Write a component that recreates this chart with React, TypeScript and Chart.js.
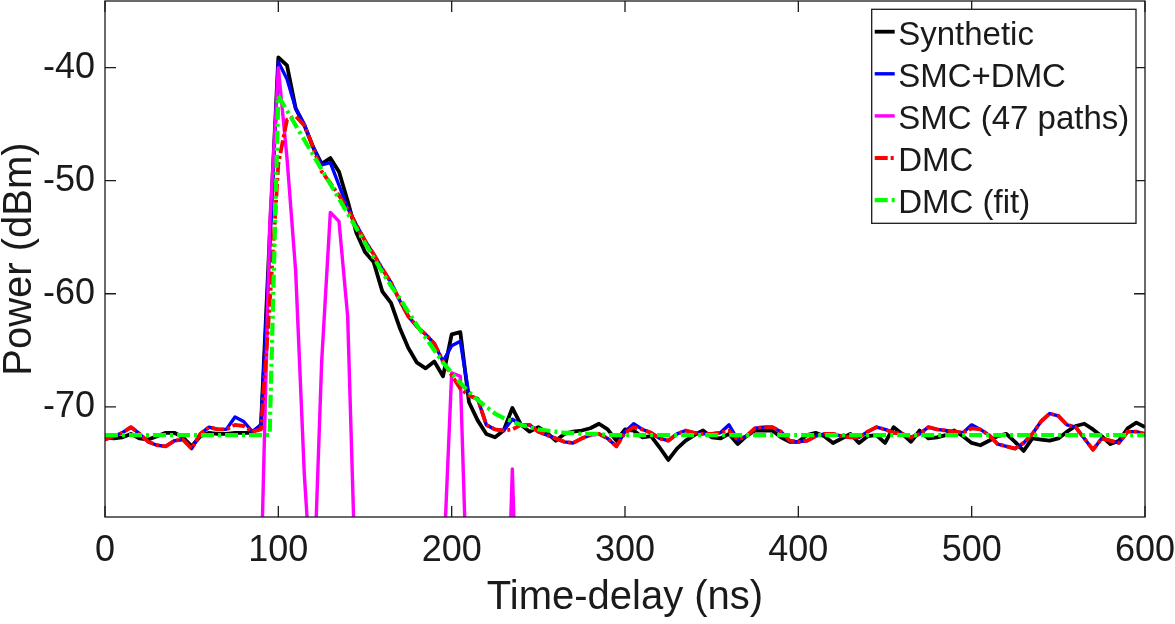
import React, { useEffect, useRef } from "react";
import { Chart, registerables } from "chart.js";

Chart.register(...registerables);

// Sample grid (ns) shared by the measured curves
const timeNs: number[] = Array.from({ length: 121 }, (_, i) => i * 5);

const synthetic: number[] = [
  -72.7, -72.8, -72.7, -72.4, -72.8, -72.9, -72.6, -72.3, -72.3, -72.7,
  -73.5, -72.6, -72.3, -72.4, -72.4, -72.3, -72.3, -72.3, -71.6, -55.0,
  -39.1, -39.8, -43.6, -45.1, -47.0, -48.5, -48.0, -49.2, -51.8, -54.6,
  -56.3, -57.2, -59.8, -60.8, -63.0, -64.8, -66.1, -66.6, -66.0, -67.3,
  -63.6, -63.4, -69.6, -71.2, -72.4, -72.7, -72.1, -70.1, -71.6, -72.2,
  -71.8, -72.3, -73.0, -72.4, -72.2, -72.1, -71.9, -71.5, -72.0, -73.0,
  -72.0, -72.1, -72.7, -72.6, -73.6, -74.7, -73.7, -73.0, -72.5, -72.1,
  -72.7, -72.8, -72.4, -73.3, -72.6, -72.1, -72.1, -72.1, -72.7, -73.1,
  -73.1, -72.5, -72.3, -72.6, -73.2, -72.8, -72.4, -73.2, -72.6, -72.5,
  -73.2, -71.8, -72.4, -73.1, -72.1, -72.8, -72.7, -72.5, -72.1, -72.6,
  -73.2, -73.4, -73.0, -72.6, -72.4, -73.1, -73.9, -72.8, -72.9, -73.0,
  -72.8, -72.2, -71.7, -71.5, -72.0, -72.6, -73.3, -73.0, -71.9, -71.4,
  -71.8,
];

const smcDmc: number[] = [
  -72.9, -72.6, -72.3, -71.8, -72.4, -73.1, -73.4, -73.5, -73.0, -72.9,
  -73.7, -72.4, -71.8, -72.0, -72.0, -70.9, -71.3, -72.2, -71.6, -56.0,
  -39.5, -41.0, -43.6, -45.0, -47.0, -48.6, -48.4, -50.4, -52.4, -53.9,
  -55.3, -56.5, -57.8, -59.0, -60.6, -62.0, -62.9, -63.6, -64.4, -66.0,
  -64.6, -64.2, -69.0, -69.3, -71.6, -72.0, -72.1, -71.1, -71.6, -71.6,
  -72.2, -72.5, -72.8, -73.1, -73.2, -72.8, -72.5, -72.4, -72.8, -73.5,
  -72.2, -71.5, -72.0, -72.3, -72.8, -73.0, -72.4, -72.1, -72.3, -72.4,
  -72.4, -72.3, -71.6, -72.9, -72.6, -71.9, -71.8, -71.8, -72.2, -73.0,
  -73.1, -73.0, -72.6, -72.4, -72.4, -72.6, -72.7, -72.7, -72.2, -71.8,
  -72.0, -72.3, -72.4, -72.7, -72.4, -71.8, -72.0, -72.1, -72.2, -72.3,
  -71.6, -72.0, -72.5, -73.3, -73.5, -73.7, -73.2, -72.4, -71.3, -70.6,
  -70.8, -71.6, -71.8, -72.8, -73.8, -72.8, -73.0, -73.2, -72.2, -72.2,
  -72.4,
];

const dmc: number[] = [
  -72.9, -72.6, -72.3, -71.8, -72.4, -73.1, -73.4, -73.5, -73.0, -72.9,
  -73.7, -72.4, -71.8, -72.0, -72.0, -71.6, -71.7, -72.2, -72.0, -61.0,
  -48.5, -44.6, -44.3, -45.1, -47.0, -49.2, -50.2, -51.3, -52.5, -53.9,
  -55.3, -56.5, -57.8, -59.0, -60.6, -62.0, -62.9, -63.6, -64.4, -66.0,
  -67.2, -68.4, -69.0, -69.3, -71.6, -72.0, -72.1, -72.0, -71.6, -71.6,
  -72.2, -72.5, -72.8, -73.1, -73.2, -72.8, -72.5, -72.4, -72.8, -73.5,
  -72.3, -71.8, -72.0, -72.3, -72.8, -73.0, -72.4, -72.1, -72.3, -72.4,
  -72.4, -72.3, -72.1, -72.9, -72.6, -71.9, -71.8, -71.8, -72.2, -73.0,
  -73.1, -73.0, -72.6, -72.4, -72.4, -72.6, -72.7, -72.7, -72.2, -71.8,
  -72.0, -72.3, -72.4, -72.7, -72.4, -71.8, -72.0, -72.1, -72.2, -72.3,
  -71.9, -72.0, -72.5, -73.3, -73.5, -73.7, -73.2, -72.4, -71.3, -70.6,
  -70.8, -71.6, -71.8, -72.8, -73.8, -72.8, -73.0, -73.2, -72.2, -72.2,
  -72.4,
];

// SMC (47 paths): only the parts that reach above the axis floor; elsewhere far below it
const smcTimeNs: number[] = [
  0, 85, 90, 95, 100, 105, 110, 115, 120, 125, 130, 135, 140, 145, 150,
  190, 195, 200, 205, 210, 215, 230, 235, 240, 600,
];
const smc: number[] = [
  -100, -100, -85, -54, -40, -48, -58, -76, -88, -66, -52.8, -53.6, -62, -88, -100,
  -100, -85, -67, -67.3, -92, -100, -100, -75.5, -100, -100,
];

// DMC (fit)
const fitTimeNs: number[] = [
  0, 95, 100, 105, 110, 115, 120, 125, 130, 135, 140, 145, 150, 155, 160,
  165, 170, 175, 180, 185, 190, 195, 200, 205, 210, 215, 220, 225, 230, 235,
  240, 245, 250, 255, 260, 265, 270, 275, 280, 285, 290, 600,
];
const dmcFit: number[] = [
  -72.5, -72.5, -42.5, -43.8, -45.1, -46.4, -47.7, -49.0, -50.3, -51.6, -52.9, -54.2, -55.5, -56.8, -58.1,
  -59.3, -60.4, -61.6, -62.8, -63.9, -65.0, -66.1, -67.0, -67.9, -68.7, -69.4, -70.0, -70.6, -71.0, -71.3,
  -71.6, -71.8, -72.0, -72.1, -72.2, -72.3, -72.3, -72.4, -72.4, -72.4, -72.5, -72.5,
];

const seriesLabels = ["Synthetic", "SMC+DMC", "SMC (47 paths)", "DMC", "DMC (fit)"];
const xTicks = [0, 100, 200, 300, 400, 500, 600];
const yTicks = [-70, -60, -50, -40];

const FONT = '"Liberation Sans", Arial, Helvetica, sans-serif';
const INK = "#1a1a1a";

const pts = (xs: number[], ys: number[]) => xs.map((x, i) => ({ x, y: ys[i] }));

const framePlugin = {
  id: "frameTicks",
  afterDatasetsDraw(chart: any) {
    const { ctx, chartArea: a, scales } = chart;
    const tl = 11;
    ctx.save();
    ctx.strokeStyle = INK;
    ctx.lineWidth = 1.3;
    ctx.setLineDash([]);
    ctx.strokeRect(a.left, a.top, a.right - a.left, a.bottom - a.top);
    ctx.beginPath();
    xTicks.forEach((v) => {
      const px = scales.x.getPixelForValue(v);
      ctx.moveTo(px, a.bottom);
      ctx.lineTo(px, a.bottom - tl);
      ctx.moveTo(px, a.top);
      ctx.lineTo(px, a.top + tl);
    });
    yTicks.forEach((v) => {
      const py = scales.y.getPixelForValue(v);
      ctx.moveTo(a.left, py);
      ctx.lineTo(a.left + tl, py);
      ctx.moveTo(a.right, py);
      ctx.lineTo(a.right - tl, py);
    });
    ctx.stroke();
    ctx.restore();
  },
};

const legendPlugin = {
  id: "boxLegend",
  afterDraw(chart: any) {
    const { ctx, chartArea: a } = chart;
    const boxL = a.right - 273.3;
    const boxR = a.right - 9;
    const boxT = a.top + 8.3;
    const boxB = a.top + 222.3;
    ctx.save();
    ctx.fillStyle = "#ffffff";
    ctx.fillRect(boxL, boxT, boxR - boxL, boxB - boxT);
    ctx.strokeStyle = INK;
    ctx.lineWidth = 1.3;
    ctx.setLineDash([]);
    ctx.strokeRect(boxL, boxT, boxR - boxL, boxB - boxT);
    ctx.font = `33px ${FONT}`;
    ctx.textAlign = "left";
    ctx.textBaseline = "alphabetic";
    chart.data.datasets.forEach((ds: any, i: number) => {
      const base = boxT + 35.7 + i * 42.1;
      const ly = base - 13.3;
      ctx.strokeStyle = ds.borderColor;
      ctx.lineWidth = ds.borderWidth;
      ctx.setLineDash(ds.borderDash || []);
      ctx.beginPath();
      ctx.moveTo(boxL + 3, ly);
      ctx.lineTo(boxL + 23, ly);
      ctx.stroke();
      ctx.setLineDash([]);
      ctx.fillStyle = INK;
      ctx.fillText(ds.label, boxL + 26.5, base);
    });
    ctx.restore();
  },
};

export default function App() {
  const canvasRef = useRef<HTMLCanvasElement | null>(null);

  useEffect(() => {
    const canvas = canvasRef.current;
    if (!canvas) return;
    const common = {
      pointRadius: 0,
      pointHoverRadius: 0,
      tension: 0,
      fill: false,
      clip: 0,
      borderJoinStyle: "round" as const,
    };
    const chart = new Chart(canvas, {
      type: "line",
      data: {
        datasets: [
          { ...common, label: seriesLabels[0], data: pts(timeNs, synthetic), borderColor: "#000000", borderWidth: 3.8, order: 5 },
          { ...common, label: seriesLabels[1], data: pts(timeNs, smcDmc), borderColor: "#0000ff", borderWidth: 3.4, order: 4 },
          { ...common, label: seriesLabels[2], data: pts(smcTimeNs, smc), borderColor: "#ff00ff", borderWidth: 3.4, order: 3 },
          { ...common, label: seriesLabels[3], data: pts(timeNs, dmc), borderColor: "#ff0000", borderWidth: 3.8, borderDash: [13, 3, 3, 3], order: 2 },
          { ...common, label: seriesLabels[4], data: pts(fitTimeNs, dmcFit), borderColor: "#00ff00", borderWidth: 4.2, borderDash: [13, 4, 3, 4], order: 1 },
        ],
      },
      options: {
        responsive: false,
        animation: false,
        events: [],
        layout: { padding: { left: 0, right: 30, top: 1, bottom: 0 } },
        plugins: {
          legend: { display: false },
          tooltip: { enabled: false },
          title: { display: false },
        },
        scales: {
          x: {
            type: "linear",
            min: 0,
            max: 600,
            grid: { display: false, drawTicks: false },
            border: { display: false },
            afterBuildTicks: (scale: any) => {
              scale.ticks = xTicks.map((v) => ({ value: v }));
            },
            afterFit: (scale: any) => {
              scale.height = 107;
              scale.paddingLeft = 0;
              scale.paddingRight = 0;
            },
            ticks: {
              color: INK,
              font: { family: FONT, size: 36 },
              padding: 12,
              maxRotation: 0,
              autoSkip: false,
              callback: (v: any) => String(v),
            },
            title: {
              display: true,
              text: "Time-delay (ns)",
              color: INK,
              font: { family: FONT, size: 40, lineHeight: 1.2 },
              padding: { top: 0, bottom: 2 },
            },
          },
          y: {
            type: "linear",
            min: -79.75,
            max: -34.1,
            grid: { display: false, drawTicks: false },
            border: { display: false },
            afterBuildTicks: (scale: any) => {
              scale.ticks = yTicks.map((v) => ({ value: v }));
            },
            afterFit: (scale: any) => {
              scale.width = 105;
              scale.paddingTop = 0;
              scale.paddingBottom = 0;
            },
            ticks: {
              color: INK,
              font: { family: FONT, size: 36 },
              padding: 10,
              autoSkip: false,
              callback: (v: any) => String(v),
            },
            title: {
              display: true,
              text: "Power (dBm)",
              color: INK,
              font: { family: FONT, size: 40, lineHeight: 1.0 },
              padding: { top: 0, bottom: 0 },
            },
          },
        },
      },
      plugins: [framePlugin, legendPlugin],
    });
    return () => chart.destroy();
  }, []);

  return (
    <div style={{ position: "absolute", left: 0, top: 0, width: 1175, height: 624, background: "#fff" }}>
      <canvas ref={canvasRef} width={1175} height={624} style={{ display: "block" }} />
    </div>
  );
}
